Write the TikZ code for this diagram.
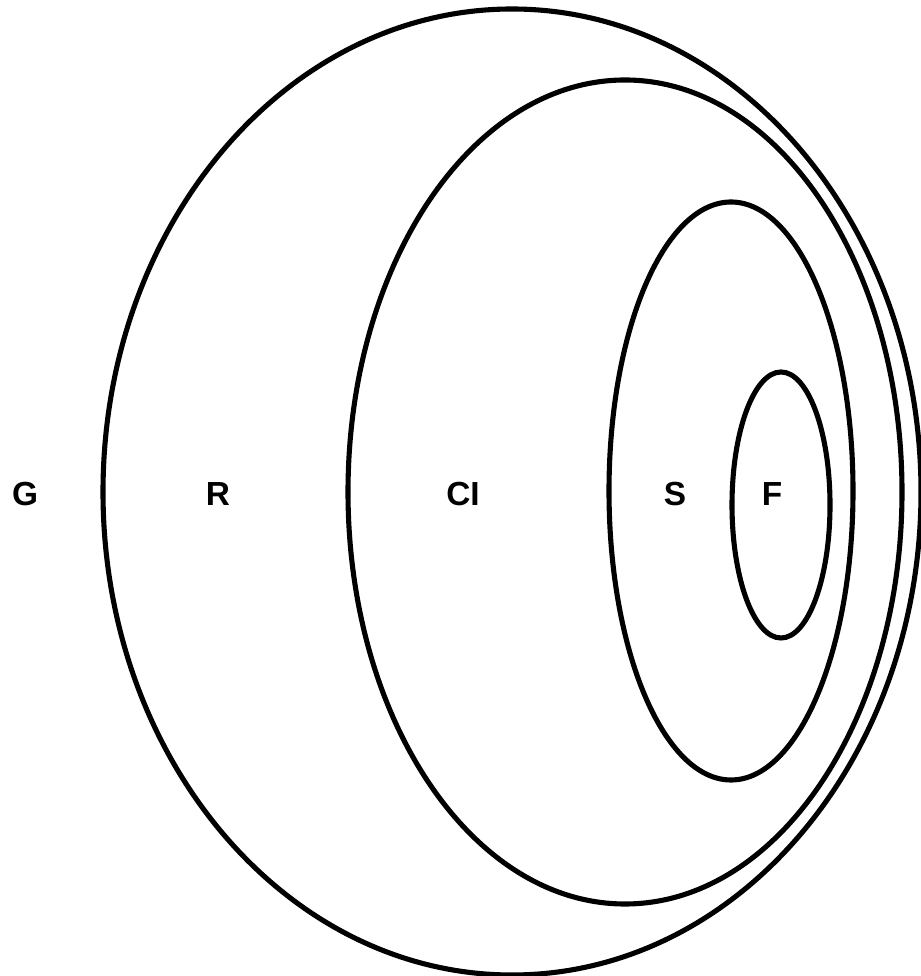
\documentclass[tikz,border=0pt]{standalone}
\usepackage{fontspec}
\setsansfont{Liberation Sans}

\tikzset{
    region/.style={line width=2.9pt},
    lab/.style={font=\sffamily\bfseries\fontsize{19}{22}\selectfont, inner sep=0pt}
}

\begin{document}
\begin{tikzpicture}[x=0.02cm, y=0.02cm]
    \useasboundingbox (0,0) rectangle (920,976);

    % 1. nested regions
    \draw[region] (512,484) ellipse (409 and 483);
    \draw[region] (625,484) ellipse (277 and 412);
    \draw[region] (731,485) ellipse (122 and 289);
    \draw[region] (781,471) ellipse (49 and 133);

    % 2. labels
    \node[lab] (g) at (25,482) {G};
    \node[lab] (r) at (218,482) {R};
    \node[lab] (ci) at (463,482) {CI};
    \node[lab] (s) at (675,482) {S};
    \node[lab] (f) at (772,482) {F};
\end{tikzpicture}
\end{document}
